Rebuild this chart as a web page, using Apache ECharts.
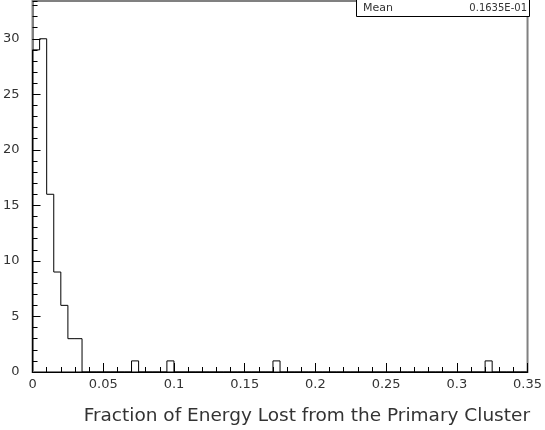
<!DOCTYPE html>
<html>
<head>
<meta charset="utf-8">
<script src="https://cdn.jsdelivr.net/npm/echarts@6/dist/echarts.min.js"></script>
<style>
  html, body { margin: 0; padding: 0; background: #fff; }
  #chart { width: 545px; height: 430px; }
</style>
</head>
<body>
<div id="chart"></div>
<script>
// histogram: 70 bins of width 0.005 from 0 to 0.35
var binStart = 0;
var binWidth = 0.005;
var counts = [
  29, 30, 16, 9, 6, 3, 3, 0, 0, 0,
  0, 0, 0, 0, 1, 0, 0, 0, 0, 1,
  0, 0, 0, 0, 0, 0, 0, 0, 0, 0,
  0, 0, 0, 0, 1, 0, 0, 0, 0, 0,
  0, 0, 0, 0, 0, 0, 0, 0, 0, 0,
  0, 0, 0, 0, 0, 0, 0, 0, 0, 0,
  0, 0, 0, 0, 1, 0, 0, 0, 0, 0
];
var xTitle = "Fraction of Energy Lost from the Primary Cluster";
var statLabel = "Mean";

// step outline through the bin edges
var points = [[binStart, 0]];
counts.forEach(function (c, i) {
  points.push([binStart + i * binWidth, c]);
});
points.push([binStart + counts.length * binWidth, 0]);

// mean from bin centres, HBOOK style (0.xxxxE-yy)
var sum = 0, n = 0;
counts.forEach(function (c, i) {
  sum += c * (binStart + (i + 0.5) * binWidth);
  n += c;
});
var mean = sum / n;
var ex = Math.floor(Math.log10(mean)) + 1;
var mant = (mean / Math.pow(10, ex)).toFixed(4);
var statValue = mant + "E" + (ex < 0 ? "-" : "+") + String(Math.abs(ex)).padStart(2, "0");

var font = "DejaVu Sans, sans-serif";
var chart = echarts.init(document.getElementById("chart"));
chart.setOption({
  animation: false,
  grid: {
    left: 30, right: 16, top: 1, bottom: 58,
    show: true, borderColor: "#808080", borderWidth: 2
  },
  xAxis: {
    type: "value", min: 0, max: 0.35, interval: 0.05,
    axisLine: { lineStyle: { color: "#000", width: 1 } },
    axisTick: { inside: true, length: 9, lineStyle: { color: "#000" } },
    minorTick: { show: true, splitNumber: 5, length: 5, lineStyle: { color: "#000" } },
    splitLine: { show: false },
    axisLabel: { margin: 6, fontSize: 13, color: "#333", fontFamily: font }
  },
  yAxis: [
    {
      type: "value", min: 0, max: 33.4, interval: 5,
      axisLine: { show: true, lineStyle: { color: "#808080", width: 2 } },
      axisTick: { show: true, inside: true, length: 8, lineStyle: { color: "#000" } },
      splitLine: { show: false },
      axisLabel: { margin: 13, fontSize: 13, color: "#333", fontFamily: font, showMaxLabel: false }
    },
    {
      type: "value", min: 0, max: 33.4, interval: 1, position: "left",
      axisLine: { show: false },
      axisTick: { show: true, inside: true, length: 5, lineStyle: { color: "#000" } },
      splitLine: { show: false },
      axisLabel: { show: false }
    }
  ],
  series: [{
    type: "line",
    step: "end",
    data: points,
    symbol: "none",
    lineStyle: { color: "#000", width: 1 }
  }],
  graphic: [
    {
      type: "rect",
      shape: { x: 356.5, y: -1, width: 173, height: 17.5 },
      style: { fill: "#fff", stroke: "#000", lineWidth: 1 },
      z: 100
    },
    {
      type: "text", x: 363, y: 8, z: 101,
      style: { text: statLabel, fill: "#333", font: "11px " + font, textVerticalAlign: "middle" }
    },
    {
      type: "text", x: 527, y: 8, z: 101,
      style: { text: statValue, fill: "#333", font: "10px " + font, textAlign: "right", textVerticalAlign: "middle" }
    },
    {
      type: "text", x: 530, y: 416,
      style: { text: xTitle, fill: "#333", font: "18.5px " + font, textAlign: "right", textVerticalAlign: "middle" }
    }
  ]
});
</script>
</body>
</html>
